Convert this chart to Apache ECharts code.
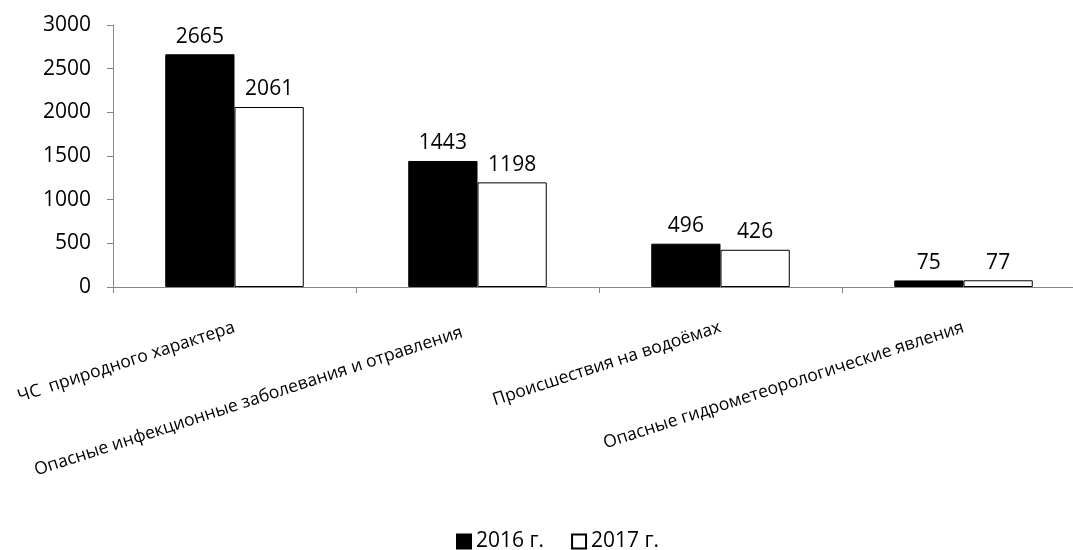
<!DOCTYPE html>
<html>
<head>
<meta charset="utf-8">
<script src="https://cdn.jsdelivr.net/npm/echarts@6/dist/echarts.min.js"></script>
<style>
    html, body { margin: 0; padding: 0; background: #fff; }
    #chart { width: 1073px; height: 550px; }
</style>
</head>
<body>
<div id="chart"></div>
<script>
const categories = [
    "ЧС  природного характера",
    "Опасные инфекционные заболевания и отравления",
    "Происшествия на водоёмах",
    "Опасные гидрометеорологические явления"
];
const values2016 = [2665, 1443, 496, 75];
const values2017 = [2061, 1198, 426, 77];
const seriesNames = ["2016 г.", "2017 г."];

const fontFamily = "Open Sans";
const axisColor = "#868686";
const chart = echarts.init(document.getElementById("chart"));

const labelStyle = {
    show: true,
    position: "top",
    distance: 7,
    color: "#000",
    fontSize: 21,
    fontFamily: fontFamily
};

// the second label sits a little left and up in the original
const categoryData = categories.map((name, i) => i === 1
    ? { value: name, textStyle: { padding: [0, 16, 14, 0] } }
    : name);

chart.setOption({
    animation: false,
    textStyle: { fontFamily: fontFamily },
    // the original is cropped on the right, so the plot runs past the edge
    grid: {
        left: 113,
        width: 972,
        top: 25,
        bottom: 263,
        outerBoundsMode: "none"
    },
    legend: {
        top: 526,
        left: 451,
        itemWidth: 14,
        itemHeight: 14,
        itemGap: 27,
        icon: "rect",
        textStyle: { color: "#000", fontSize: 21, fontFamily: fontFamily },
        data: seriesNames
    },
    xAxis: {
        type: "category",
        data: categoryData,
        axisLine: { lineStyle: { color: axisColor } },
        axisTick: { show: true, length: 6, lineStyle: { color: axisColor } },
        axisLabel: {
            interval: 0,
            rotate: 18,
            margin: 40,
            color: "#000",
            fontSize: 17.5,
            fontFamily: fontFamily
        }
    },
    yAxis: {
        type: "value",
        min: 0,
        max: 3000,
        interval: 500,
        axisLine: { show: true, lineStyle: { color: axisColor } },
        axisTick: { show: true, length: 6, lineStyle: { color: axisColor } },
        splitLine: { show: false },
        axisLabel: {
            margin: 22,
            color: "#000",
            fontSize: 21,
            fontFamily: fontFamily,
            formatter: v => String(v)
        }
    },
    series: [
        {
            name: seriesNames[0],
            type: "bar",
            data: values2016,
            barGap: "0%",
            barCategoryGap: "43%",
            itemStyle: { color: "#000", borderColor: "#000", borderWidth: 1 },
            label: labelStyle
        },
        {
            name: seriesNames[1],
            type: "bar",
            data: values2017,
            itemStyle: { color: "#fff", borderColor: "#000", borderWidth: 1 },
            label: labelStyle
        }
    ]
});
</script>
</body>
</html>
